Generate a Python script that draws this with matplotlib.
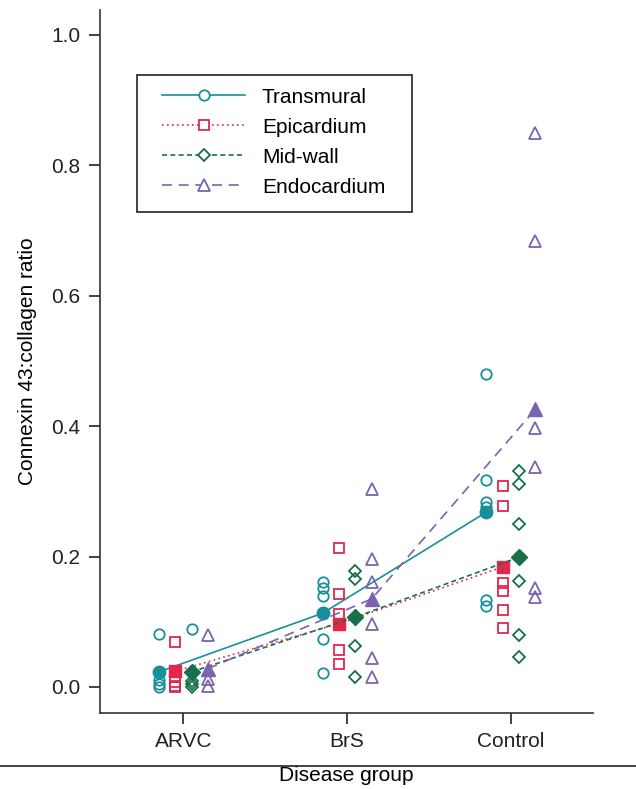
import matplotlib
matplotlib.use('Agg')
import matplotlib.pyplot as plt
from matplotlib.lines import Line2D
from matplotlib.patches import Rectangle

plt.rcParams['font.family'] = ['Liberation Sans', 'DejaVu Sans']

groups = ['ARVC', 'BrS', 'Control']
series = ['Transmural', 'Epicardium', 'Mid-wall', 'Endocardium']

# individual values per group for each series
transmural = [[0.081, 0.010, 0.005, 0.0],
              [0.161, 0.152, 0.140, 0.074, 0.021],
              [0.480, 0.318, 0.284, 0.276, 0.133, 0.124]]
epicardium = [[0.069, 0.015, 0.008, 0.002, 0.0],
              [0.213, 0.143, 0.112, 0.057, 0.035],
              [0.308, 0.278, 0.160, 0.147, 0.118, 0.090]]
midwall = [[0.009, 0.004, 0.0],
           [0.178, 0.166, 0.063, 0.015],
           [0.331, 0.311, 0.250, 0.163, 0.080, 0.046]]
endocardium = [[0.080, 0.012, 0.002],
               [0.304, 0.196, 0.161, 0.097, 0.044, 0.015],
               [0.850, 0.684, 0.397, 0.337, 0.152, 0.138]]
# stray open circle drawn in the ARVC mid-wall column
stray_circle = [0.089]

# group means (filled markers)
means = {
    'Transmural': [0.023, 0.113, 0.268],
    'Epicardium': [0.024, 0.097, 0.184],
    'Mid-wall': [0.023, 0.107, 0.199],
    'Endocardium': [0.028, 0.135, 0.426],
}

values = {'Transmural': transmural, 'Epicardium': epicardium,
          'Mid-wall': midwall, 'Endocardium': endocardium}
colors = {'Transmural': '#17909b', 'Epicardium': '#e2274b',
          'Mid-wall': '#17704a', 'Endocardium': '#7a63b0'}
markers = {'Transmural': 'o', 'Epicardium': 's', 'Mid-wall': 'D', 'Endocardium': '^'}
msizes = {'Transmural': 7.5, 'Epicardium': 7.5, 'Mid-wall': 6.3, 'Endocardium': 8.5}
styles = {'Transmural': '-', 'Epicardium': (0, (1, 2)), 'Mid-wall': (0, (3, 2)),
          'Endocardium': (0, (6, 4))}
offsets = {'Transmural': -0.15, 'Epicardium': -0.05, 'Mid-wall': 0.05, 'Endocardium': 0.15}

fig = plt.figure(figsize=(6.36, 7.89), dpi=100)
ax = fig.add_axes([0.157, 0.0963, 0.775, 0.891])

for s in series:
    c = colors[s]
    for gi, vals in enumerate(values[s]):
        x = [gi + 1 + offsets[s]] * len(vals)
        ax.plot(x, vals, linestyle='none', marker=markers[s], ms=msizes[s],
                mfc='none', mec=c, mew=1.3)
    xm = [gi + 1 + offsets[s] for gi in range(len(groups))]
    ax.plot(xm, means[s], linestyle=styles[s], color=c, lw=1.2,
            marker=markers[s], ms=msizes[s] + 1.5, mfc=c, mec=c)

ax.plot([1 + offsets['Mid-wall']], stray_circle, linestyle='none', marker='o',
        ms=7.5, mfc='none', mec=colors['Transmural'], mew=1.3)

# legend content without frame, frame drawn separately
handles = [Line2D([], [], color=colors[s], linestyle=styles[s], lw=1.2,
                  marker=markers[s], ms=msizes[s], mfc='white', mec=colors[s], mew=1.3)
           for s in series]
leg = fig.legend(handles, series, loc='upper left', bbox_to_anchor=(0.2547, 0.889),
                 fontsize=15, frameon=False, handlelength=4.0, handletextpad=0.8,
                 borderpad=0, labelspacing=0.53, borderaxespad=0)
fig.add_artist(Rectangle((0.2154, 0.7313), 0.4324, 0.1736, transform=fig.transFigure,
                         fill=False, edgecolor='#222222', lw=1.2))

ax.set_xlim(0.49, 3.5)
ax.set_ylim(-0.04, 1.038)
ax.set_xticks([1, 2, 3])
ax.set_xticklabels(groups)
ax.set_yticks([0.0, 0.2, 0.4, 0.6, 0.8, 1.0])
ax.set_yticklabels(['0.0', '0.2', '0.4', '0.6', '0.8', '1.0'])
ax.tick_params(labelsize=15, length=8, width=1.2, colors='#222222', pad=6)
ax.spines['top'].set_visible(False)
ax.spines['right'].set_visible(False)
for sp in ('left', 'bottom'):
    ax.spines[sp].set_linewidth(1.2)
    ax.spines[sp].set_color('#333333')

ax.set_ylabel('Connexin 43:collagen ratio', fontsize=15, labelpad=10)
fig.text(0.545, 0.017, 'Disease group', fontsize=15, ha='center', va='center')
fig.add_artist(Line2D([0, 1], [0.029, 0.029], transform=fig.transFigure,
                      color='#222222', lw=1.2))

fig.savefig('out.png', dpi=100)
